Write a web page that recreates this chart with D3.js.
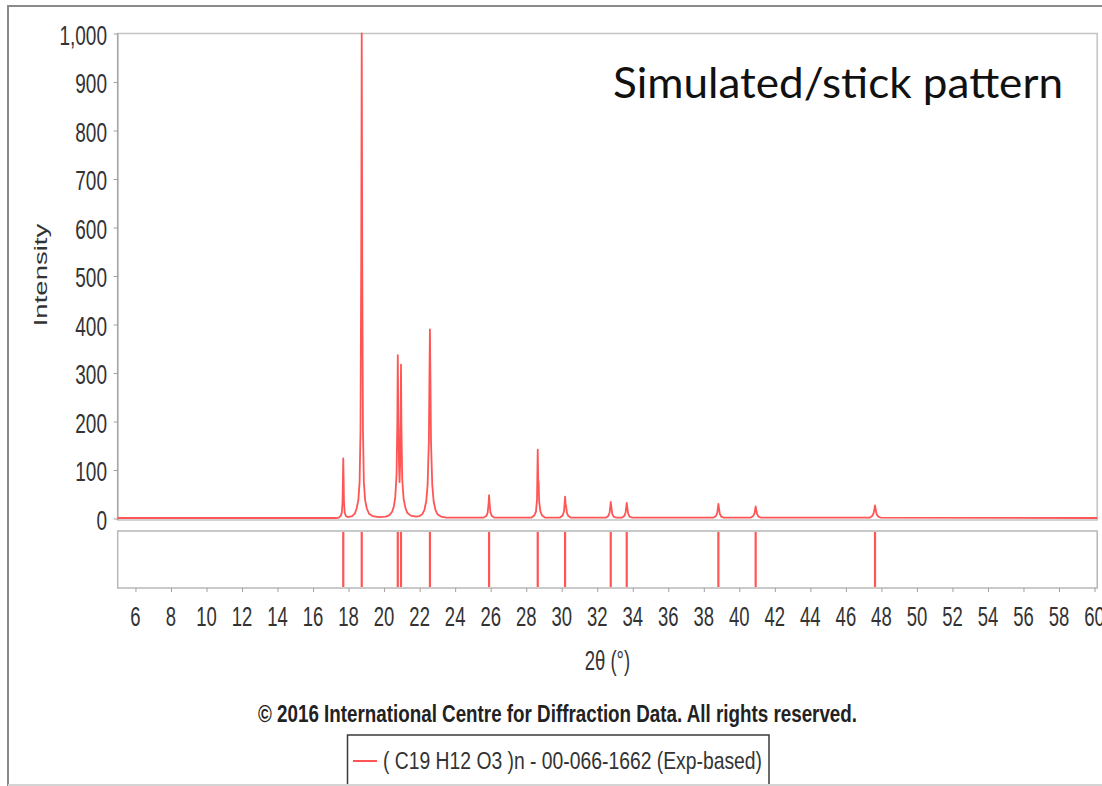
<!DOCTYPE html>
<html>
<head>
<meta charset="utf-8">
<script src="https://cdn.jsdelivr.net/npm/d3@7"></script>
<style>
html,body{margin:0;padding:0;background:#fff;}
svg{display:block;}
</style>
</head>
<body>
<svg id="chart" width="1102" height="786"></svg>
<script>
// ---- data ----
// stick positions (2θ, degrees) and relative intensities
const stickPositions = [17.70, 18.74, 20.77, 20.95, 22.58, 25.91, 28.65, 30.19, 32.76, 33.66, 38.82, 40.92, 47.64];
const stickIntensities = [124, 1000, 337, 317, 390, 48, 142, 45, 34, 32, 30, 25, 27];

// simulated profile: [2θ, intensity]
const profile2Theta = [
  5, 17.3,
  17.45, 17.55, 17.62, 17.66, 17.70, 17.74, 17.78, 17.85, 17.95,
  18.2, 18.35, 18.45, 18.55, 18.62, 18.67, 18.71, 18.74, 18.77, 18.81, 18.86, 18.93, 19.03, 19.15, 19.35, 19.7,
  20.1, 20.3, 20.45, 20.55, 20.63, 20.70, 20.745, 20.77, 20.80, 20.84, 20.87, 20.90, 20.925, 20.95, 20.975, 21.02, 21.1, 21.2, 21.3, 21.5, 21.8,
  22.0, 22.15, 22.27, 22.37, 22.45, 22.52, 22.555, 22.58, 22.605, 22.64, 22.71, 22.79, 22.89, 23.0, 23.2, 23.5,
  25.6, 25.75, 25.83, 25.88, 25.91, 25.94, 25.99, 26.07, 26.2,
  28.3, 28.45, 28.55, 28.61, 28.65, 28.675, 28.70, 28.73, 28.8, 28.9, 29.05,
  29.9, 30.05, 30.13, 30.19, 30.22, 30.25, 30.29, 30.37, 30.5,
  32.5, 32.62, 32.70, 32.76, 32.80, 32.84, 32.92, 33.05,
  33.4, 33.52, 33.60, 33.66, 33.70, 33.74, 33.82, 33.95,
  38.55, 38.68, 38.76, 38.82, 38.86, 38.90, 38.98, 39.1,
  40.65, 40.78, 40.86, 40.92, 40.96, 41.0, 41.08, 41.2,
  47.35, 47.48, 47.57, 47.64, 47.68, 47.73, 47.82, 47.95,
  60.15
];
const profileIntensity = [
  1, 1,
  2, 5, 12, 35, 124, 35, 12, 5, 3,
  5, 10, 20, 38, 75, 180, 520, 1000, 520, 180, 75, 38, 20, 10, 5, 3,
  4, 7, 14, 25, 45, 90, 200, 337, 200, 110, 75, 110, 200, 317, 190, 80, 40, 22, 12, 6, 4,
  5, 9, 18, 35, 70, 160, 300, 390, 300, 160, 70, 35, 18, 9, 4, 2,
  2, 5, 12, 30, 48, 30, 12, 5, 2,
  2, 6, 14, 40, 142, 80, 76, 35, 14, 6, 2,
  2, 6, 15, 45, 28, 25, 12, 5, 2,
  2, 5, 13, 34, 22, 10, 4, 2,
  2, 5, 13, 32, 21, 10, 4, 2,
  2, 5, 12, 30, 20, 10, 4, 2,
  2, 5, 11, 25, 17, 9, 4, 2,
  2, 5, 12, 27, 18, 9, 4, 2,
  1
];

const xTicks = d3.range(6, 61, 2);
const yTicks = d3.range(0, 1001, 100);
const xDomain = [5, 60.15];
const yDomain = [0, 1000];

const titleText = "Simulated/stick pattern";
const yLabel = "Intensity";
const xLabel = "2θ (°)";
const copyrightText = "© 2016 International Centre for Diffraction Data. All rights reserved.";
const legendText = "( C19 H12 O3 )n - 00-066-1662 (Exp-based)";

// ---- layout ----
const svg = d3.select("#chart");
const L = 117.7, R = 1097.2;
const mainTop = 33.5, mainBottom = 520, zeroY = 518.5;
const stickTop = 531, stickBottom = 588;
const red = "#ff5555";
const axisFont = "'Liberation Sans', Arial, sans-serif";
const sy = 1.45;

const x = d3.scaleLinear().domain(xDomain).range([L, R]);
const y = d3.scaleLinear().domain(yDomain).range([zeroY, mainTop]);

// outer frame
svg.append("path").attr("d", "M8,786 V6 H1102").attr("fill", "none").attr("stroke", "#8a8a8a").attr("stroke-width", 2);
svg.append("line").attr("x1", 8).attr("x2", 1102).attr("y1", 785).attr("y2", 785).attr("stroke", "#d4d4d4").attr("stroke-width", 2);

// plot boxes
svg.append("rect").attr("x", L).attr("y", mainTop).attr("width", R - L).attr("height", mainBottom - mainTop)
  .attr("fill", "none").attr("stroke", "#c4c4c4").attr("stroke-width", 1.5);
svg.append("line").attr("x1", L).attr("x2", L).attr("y1", mainTop).attr("y2", mainBottom).attr("stroke", "#a8a8a8").attr("stroke-width", 1.5);
svg.append("rect").attr("x", L).attr("y", stickTop).attr("width", R - L).attr("height", stickBottom - stickTop)
  .attr("fill", "none").attr("stroke", "#b8b8b8").attr("stroke-width", 1.5);

// y axis ticks
const yAxis = d3.axisLeft(y).tickValues(yTicks).tickSize(4).tickFormat("");
const gy = svg.append("g").attr("transform", `translate(${L},0)`).call(yAxis);
gy.select(".domain").remove();
gy.selectAll("line").attr("stroke", "#a0a0a0");
svg.append("g").selectAll("g").data(yTicks).join("g")
  .attr("transform", d => `translate(107,${y(d)}) scale(1,${sy})`)
  .append("text").attr("y", 7.6).attr("text-anchor", "end")
  .attr("font-family", axisFont).attr("font-size", 19).attr("fill", "#333")
  .text(d => d3.format(",")(d));

// x axis ticks under stick panel
const xAxis = d3.axisBottom(x).tickValues(xTicks).tickSize(4).tickFormat("");
const gx = svg.append("g").attr("transform", `translate(0,${stickBottom})`).call(xAxis);
gx.select(".domain").remove();
gx.selectAll("line").attr("stroke", "#a0a0a0");
svg.append("g").selectAll("g").data(xTicks).join("g")
  .attr("transform", d => `translate(${x(d)},626) scale(1,${sy})`)
  .append("text").attr("text-anchor", "middle")
  .attr("font-family", axisFont).attr("font-size", 18.5).attr("fill", "#333")
  .text(d => d);

// axis titles
svg.append("g").attr("transform", `translate(47,275) rotate(-90) scale(${sy},1)`)
  .append("text").attr("text-anchor", "middle")
  .attr("font-family", axisFont).attr("font-size", 19).attr("fill", "#333").text(yLabel);
svg.append("g").attr("transform", `translate(${(L + R) / 2},670) scale(1,${sy})`)
  .append("text").attr("text-anchor", "middle")
  .attr("font-family", axisFont).attr("font-size", 18.5).attr("fill", "#333").text(xLabel);

// simulated profile
const profile = profile2Theta.map((t, i) => [t, profileIntensity[i]]);
const line = d3.line().x(d => x(d[0])).y(d => y(d[1]));
svg.append("path").datum(profile).attr("d", line)
  .attr("fill", "none").attr("stroke", red).attr("stroke-width", 1.8).attr("stroke-linejoin", "round");

// sticks
svg.append("g").selectAll("line").data(stickPositions).join("line")
  .attr("x1", d => x(d)).attr("x2", d => x(d))
  .attr("y1", stickTop + 1).attr("y2", stickBottom - 1)
  .attr("stroke", red).attr("stroke-width", 2.2);

// overlay title
svg.append("text").attr("x", 613).attr("y", 98)
  .attr("font-family", "Lato, 'Open Sans', sans-serif").attr("font-size", 43).attr("fill", "#111")
  .attr("textLength", 450).attr("lengthAdjust", "spacingAndGlyphs").text(titleText);

// copyright
svg.append("g").attr("transform", `translate(557.5,722) scale(1,1.4)`)
  .append("text").attr("text-anchor", "middle")
  .attr("font-family", axisFont).attr("font-weight", "bold").attr("font-size", 17).attr("fill", "#222")
  .attr("textLength", 599).attr("lengthAdjust", "spacingAndGlyphs").text(copyrightText);

// legend
svg.append("rect").attr("x", 347.5).attr("y", 735).attr("width", 421.5).attr("height", 70)
  .attr("fill", "#fff").attr("stroke", "#3a3a3a").attr("stroke-width", 1.5);
svg.append("line").attr("x1", 8).attr("x2", 1102).attr("y1", 785).attr("y2", 785).attr("stroke", "#d4d4d4").attr("stroke-width", 2);
svg.append("line").attr("x1", 353).attr("x2", 377).attr("y1", 761).attr("y2", 761).attr("stroke", red).attr("stroke-width", 2);
svg.append("g").attr("transform", `translate(383,769) scale(1,1.4)`)
  .append("text").attr("font-family", axisFont).attr("font-size", 17).attr("fill", "#333")
  .attr("textLength", 379).attr("lengthAdjust", "spacingAndGlyphs").text(legendText);
</script>
</body>
</html>
